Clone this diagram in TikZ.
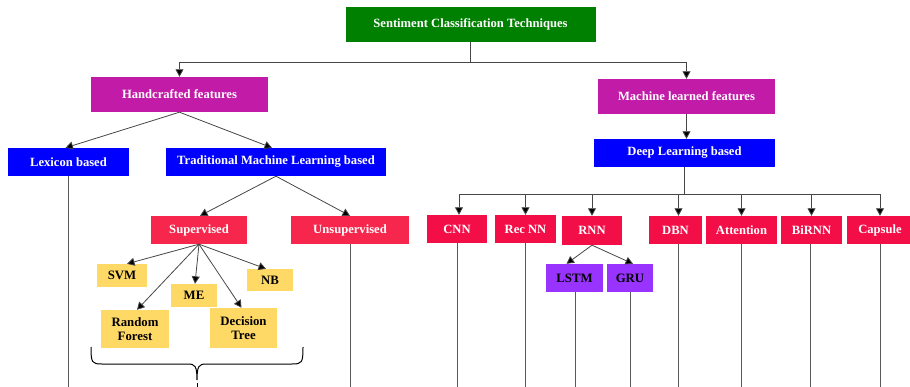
\documentclass[tikz,border=0pt]{standalone}
\usepackage{fontspec}
\setmainfont{Liberation Serif}
\usetikzlibrary{arrows.meta}
\definecolor{cgreen}{RGB}{0,128,0}
\definecolor{cmag}{RGB}{193,27,167}
\definecolor{cblue}{RGB}{0,0,255}
\definecolor{cred}{RGB}{246,38,76}
\definecolor{cred2}{RGB}{243,14,72}
\definecolor{cyel}{RGB}{255,217,102}
\definecolor{cpur}{RGB}{153,51,255}
\definecolor{cline}{RGB}{70,70,70}
\tikzset{
  box/.style={inner sep=0pt, align=center, font=\bfseries\fontsize{12.6}{12.6}\selectfont},
  wbox/.style={box, text=white},
  kbox/.style={box, text=black, font=\bfseries\fontsize{12.8}{14}\selectfont},
  arr/.style={draw=cline, line width=0.8pt, -{Triangle[length=7.5pt,width=8pt,fill=black]}},
  ln/.style={draw=cline, line width=0.8pt},
  vl/.style={draw=black!65, line width=0.8pt},
}
\begin{document}
\begin{tikzpicture}[x=1pt,y=-1pt]
\useasboundingbox (0,0) rectangle (910,387);
\coordinate (bot) at (0,388);
% nodes
\node[wbox, fill=cgreen, minimum width=250, minimum height=35] (root) at (470.5,24.5) {Sentiment Classification Techniques};
\node[wbox, fill=cmag, minimum width=177, minimum height=35] (hand) at (179.5,94.5) {Handcrafted features};
\node[wbox, fill=cmag, minimum width=177, minimum height=35] (mlf) at (686.5,96.5) {Machine learned features};
\node[wbox, fill=cblue, minimum width=181, minimum height=28] (dl) at (684.5,153) {Deep Learning based};
\node[wbox, fill=cblue, minimum width=121, minimum height=28] (lex) at (68.5,162) {Lexicon based};
\node[wbox, fill=cblue, minimum width=220, minimum height=28] (tml) at (276,162) {Traditional Machine Learning based};
\node[wbox, fill=cred, minimum width=96, minimum height=28] (sup) at (199,230) {Supervised};
\node[wbox, fill=cred, minimum width=118, minimum height=28] (unsup) at (350,230) {Unsupervised};
\node[kbox, fill=cyel, minimum width=50, minimum height=23] (svm) at (122,275.5) {SVM};
\node[kbox, fill=cyel, minimum width=46, minimum height=23] (me) at (194,295.5) {ME};
\node[kbox, fill=cyel, minimum width=46, minimum height=22] (nb) at (270,280) {NB};
\node[kbox, fill=cyel, minimum width=68, minimum height=38] (rf) at (135,329) {Random\\Forest};
\node[kbox, fill=cyel, minimum width=67, minimum height=40] (dt) at (243.5,328) {Decision\\Tree};
\node[wbox, fill=cred2, minimum width=60, minimum height=28] (cnn) at (457,229) {CNN};
\node[wbox, fill=cred2, minimum width=61, minimum height=28] (recnn) at (525.5,229) {Rec NN};
\node[wbox, fill=cred2, minimum width=60, minimum height=29] (rnn) at (592,230.5) {RNN};
\node[wbox, fill=cred2, minimum width=53, minimum height=28] (dbn) at (675.5,230) {DBN};
\node[wbox, fill=cred2, minimum width=71, minimum height=28] (att) at (741.5,230) {Attention};
\node[wbox, fill=cred2, minimum width=61, minimum height=28] (birnn) at (811.5,230) {BiRNN};
\node[wbox, fill=cred2, minimum width=66, minimum height=28] (caps) at (880,230) {Capsule};
\node[kbox, fill=cpur, minimum width=57, minimum height=28] (lstm) at (574.5,278) {LSTM};
\node[kbox, fill=cpur, minimum width=46, minimum height=28] (gru) at (630,278) {GRU};
% top bus
\draw[ln] (root.south) -- ++(0,20) coordinate (tb);
\draw[ln] (tb -| hand.north) -- (tb -| mlf.north);
\draw[arr] (tb -| hand.north) -- (hand.north);
\draw[arr] (tb -| mlf.north) -- (mlf.north);
% handcrafted
\draw[arr] (hand.south) -- ([xshift=-3pt]lex.north);
\draw[arr] (hand.south) -- ([xshift=-4pt]tml.north);
\draw[arr] (tml.south) -- ([xshift=1pt]sup.north);
\draw[arr] (tml.south) -- (unsup.north);
\draw[arr] (sup.south) -- ([xshift=5pt]svm.north);
\draw[arr] (sup.south) -- ([xshift=2pt]rf.north);
\draw[arr] (sup.south) -- ([xshift=1pt]me.north);
\draw[arr] (sup.south) -- ([xshift=-2pt]dt.north);
\draw[arr] (sup.south) -- ([xshift=-4pt]nb.north);
% deep learning
\draw[arr] (mlf.south) -- (mlf.south |- dl.north);
\draw[ln] (dl.south) -- ++(0,27) coordinate (db);
\draw[ln] ([xshift=2pt]db -| cnn.north) -- (db -| caps.north);
\draw[arr] ([xshift=2pt]db -| cnn.north) -- ([xshift=2pt]cnn.north);
\draw[arr] (db -| recnn.north) -- (recnn.north);
\draw[arr] (db -| rnn.north) -- (rnn.north);
\draw[arr] ([xshift=3pt]db -| dbn.north) -- ([xshift=3pt]dbn.north);
\draw[arr] (db -| att.north) -- (att.north);
\draw[arr] (db -| birnn.north) -- (birnn.north);
\draw[arr] (db -| caps.north) -- (caps.north);
\draw[arr] (rnn.south) -- ([xshift=-8pt]lstm.north);
\draw[arr] (rnn.south) -- ([xshift=3pt]gru.north);
% vertical lines to bottom
\foreach \n in {lex,unsup,cnn,recnn,gru,att,caps}{
  \draw[vl] (\n.south) -- (\n.south |- bot);
}
\draw[vl] ([xshift=3pt]dbn.south) -- ([xshift=3pt]dbn.south |- bot);
\draw[vl] ([xshift=-1pt]birnn.south) -- ([xshift=-1pt]birnn.south |- bot);
\draw[vl] ([xshift=1pt]lstm.south) -- ([xshift=1pt]lstm.south |- bot);
% brace
\draw[black, line width=1pt] (91,347) .. controls (91,363) and (92,364) .. (102,364) -- (188,364) .. controls (195,364) and (197,366) .. (197,380)
  (197,380) .. controls (197,366) and (199,364) .. (206,364) -- (292,364) .. controls (302,364) and (303,363) .. (303,347);
\draw[black, line width=1pt] (197,383) -- (197,387);
\end{tikzpicture}
\end{document}
